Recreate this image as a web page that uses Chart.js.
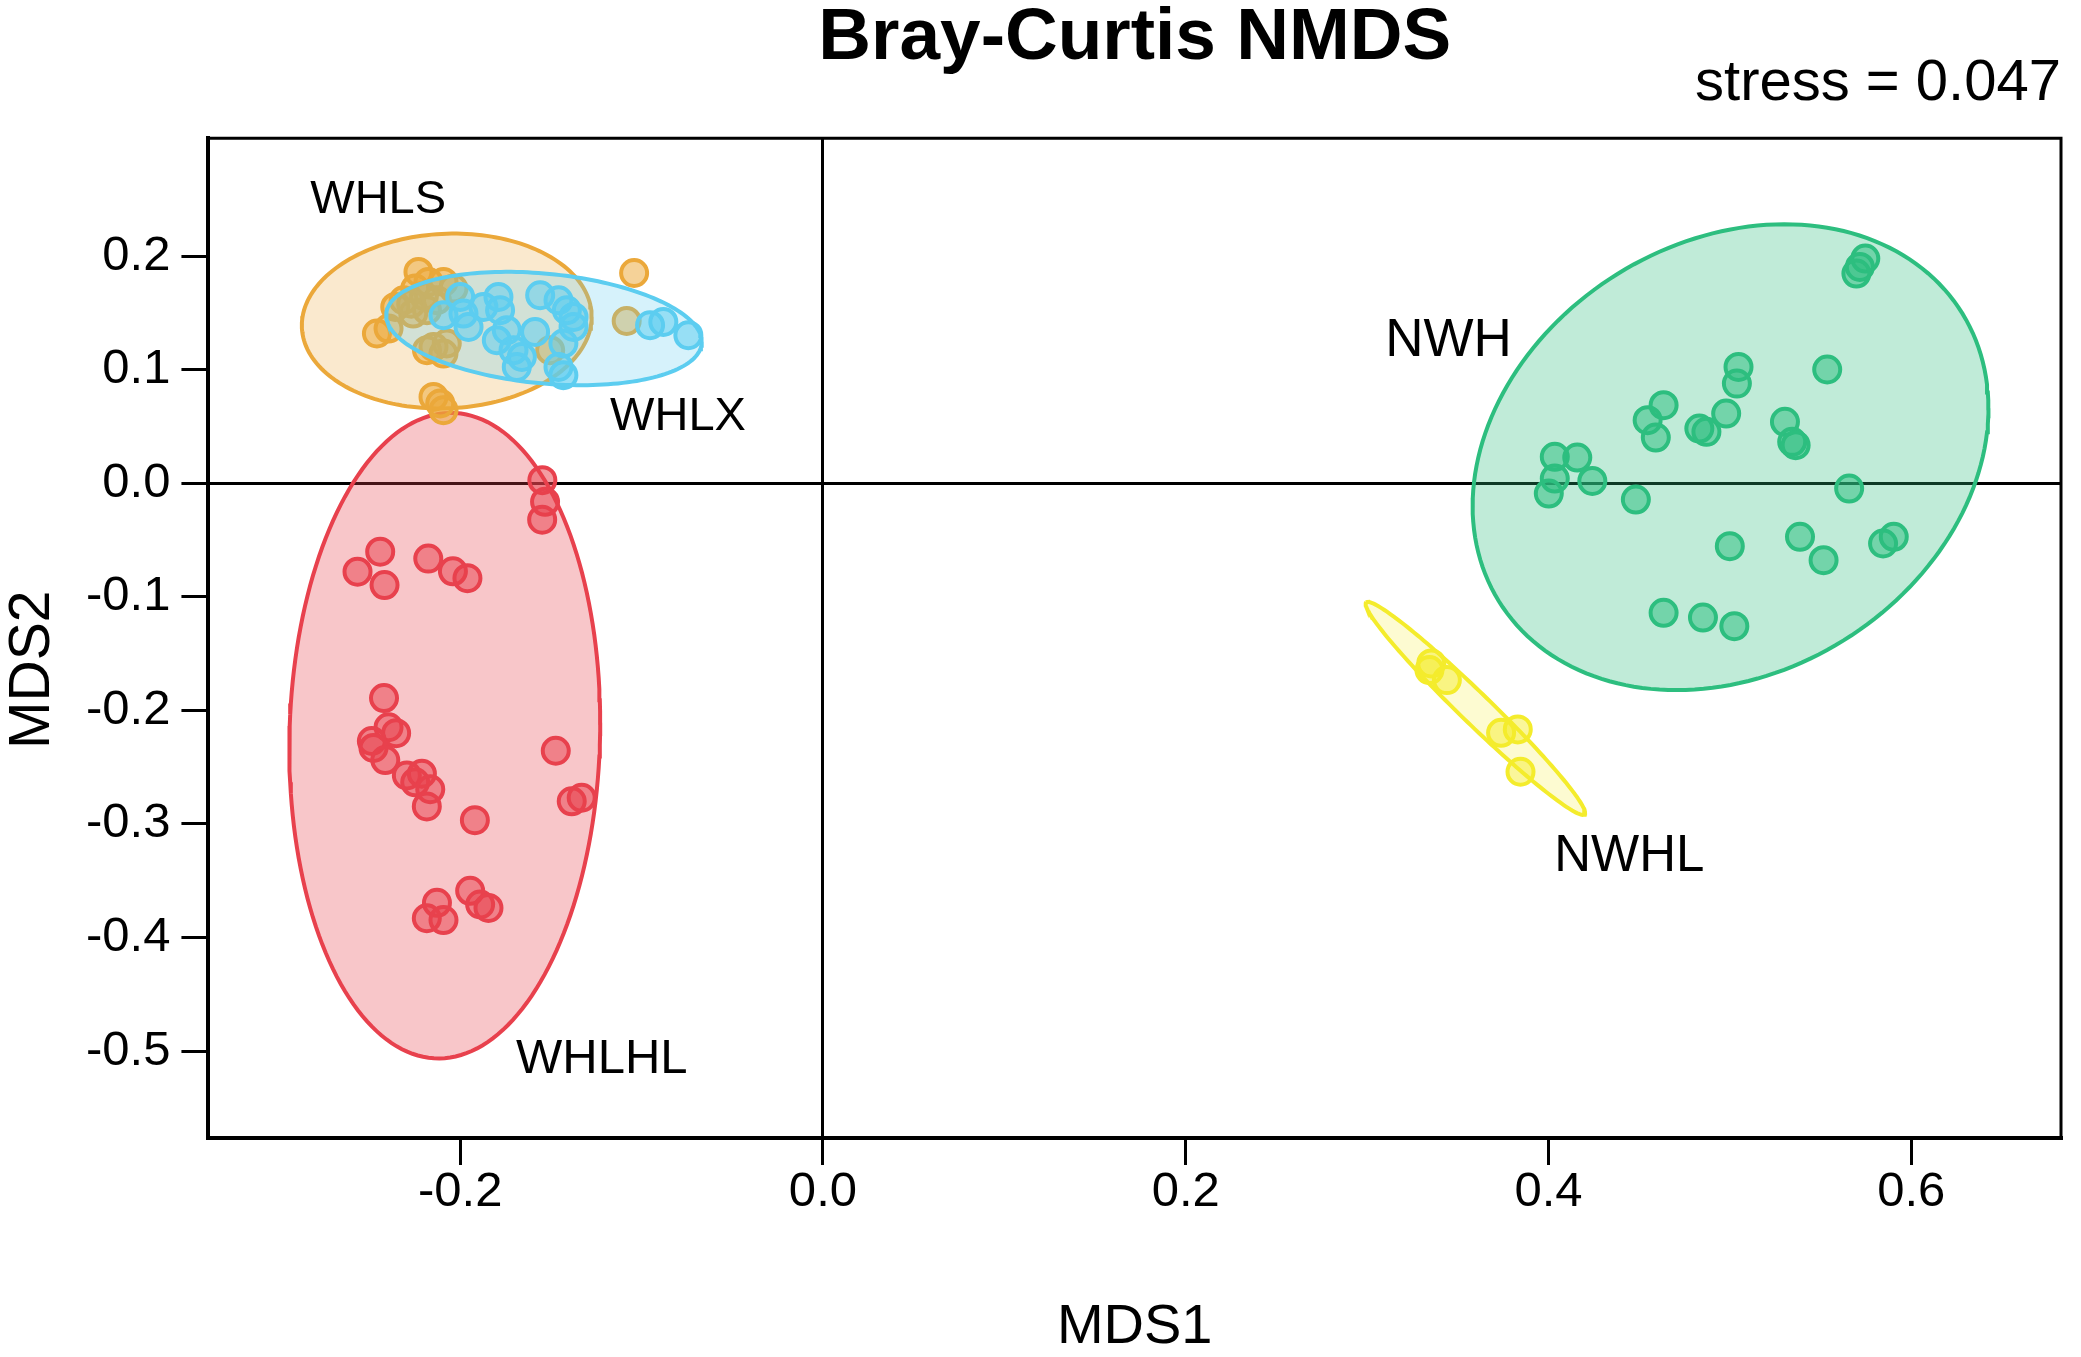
<!DOCTYPE html>
<html>
<head>
<meta charset="utf-8">
<title>Bray-Curtis NMDS</title>
<script src="https://cdn.jsdelivr.net/npm/chart.js@4.4.1/dist/chart.umd.min.js"></script>
<style>
  html, body { margin: 0; padding: 0; background: #fff; overflow: hidden; }
  canvas { display: block; }
</style>
</head>
<body>
<canvas id="nmds" width="2081" height="1357"></canvas>
<script>
const FONT = "'Liberation Sans', Arial, sans-serif";

// groups, in drawing order (first = bottom)
const groups = ['WHLHL', 'WHLS', 'WHLX', 'NWHL', 'NWH'];

// sample scores (MDS1, MDS2)
const whlhlX = [-0.1547, -0.1532, -0.1548, -0.2441, -0.2566, -0.2417, -0.2176, -0.2040, -0.1960, -0.2420,
  -0.2395, -0.2353, -0.2487, -0.2478, -0.2413, -0.2294, -0.2248, -0.2211, -0.2165, -0.2184,
  -0.1473, -0.1385, -0.1330, -0.1919, -0.1945, -0.1890, -0.1844, -0.2128, -0.2184, -0.2092];
const whlhlY = [0.0027, -0.0164, -0.0321, -0.0603, -0.0779, -0.0897, -0.0664, -0.0776, -0.0836, -0.1892,
  -0.2149, -0.2201, -0.2270, -0.2331, -0.2438, -0.2573, -0.2634, -0.2558, -0.2695, -0.2846,
  -0.2356, -0.2801, -0.2770, -0.2967, -0.3589, -0.3710, -0.3740, -0.3695, -0.3831, -0.3847];

const whlsX = [-0.2230, -0.1041, -0.1082, -0.2459, -0.2395, -0.2312, -0.2248, -0.2175, -0.2092, -0.2037,
  -0.2259, -0.2183, -0.2128, -0.2358, -0.2147, -0.2092, -0.2074, -0.2183, -0.1504, -0.2147,
  -0.2110, -0.2092, -0.2200, -0.2270];
const whlsY = [0.1860, 0.1851, 0.1429, 0.1318, 0.1362, 0.1611, 0.1714, 0.1772, 0.1772, 0.1714,
  0.1494, 0.1523, 0.1611, 0.1552, 0.1200, 0.1141, 0.1230, 0.1171, 0.1171, 0.0760,
  0.0702, 0.0643, 0.1650, 0.1580];

const whlxX = [-0.2092, -0.2000, -0.1982, -0.1954, -0.1872, -0.1789, -0.1780, -0.1743, -0.1798, -0.1706,
  -0.1660, -0.1688, -0.1587, -0.1559, -0.1458, -0.1412, -0.1375, -0.1375, -0.1431, -0.1458,
  -0.1431, -0.0953, -0.0880, -0.0742];
const whlxY = [0.1479, 0.1640, 0.1494, 0.1376, 0.1552, 0.1640, 0.1523, 0.1347, 0.1259, 0.1171,
  0.1112, 0.1024, 0.1332, 0.1655, 0.1611, 0.1523, 0.1464, 0.1376, 0.1230, 0.1024,
  0.0951, 0.1391, 0.1420, 0.1303];

const nwhlX = [0.3354, 0.3344, 0.3440, 0.3739, 0.3831, 0.3846];
const nwhlY = [-0.1587, -0.1646, -0.1734, -0.2198, -0.2168, -0.2541];

const nwhX = [0.5747, 0.5717, 0.5698, 0.5048, 0.5039, 0.5537, 0.4635, 0.4547, 0.4592, 0.4832,
  0.4871, 0.4980, 0.5304, 0.5344, 0.5363, 0.4035, 0.4159, 0.4035, 0.4242, 0.4002,
  0.4482, 0.5658, 0.5000, 0.5387, 0.5517, 0.5845, 0.5904, 0.4635, 0.4852, 0.5025];
const nwhY = [0.1978, 0.1904, 0.1846, 0.1024, 0.0877, 0.1001, 0.0687, 0.0555, 0.0402, 0.0481,
  0.0452, 0.0613, 0.0540, 0.0364, 0.0335, 0.0232, 0.0226, 0.0041, 0.0020, -0.0091,
  -0.0144, -0.0047, -0.0555, -0.0472, -0.0678, -0.0531, -0.0472, -0.1141, -0.1183, -0.1259];

const groupX = [whlhlX, whlsX, whlxX, nwhlX, nwhX];
const groupY = [whlhlY, whlsY, whlxY, nwhlY, nwhY];

// group ellipses: centre, half-extent along each axis, correlation (tilt)
const ellipseCx = [-0.2085, -0.2074, -0.1538, 0.3597, 0.5004];
const ellipseCy = [-0.2223, 0.1428, 0.1362, -0.1983, 0.0229];
const ellipseRx = [0.0857, 0.0799, 0.0870, 0.0605, 0.1422];
const ellipseRy = [0.2842, 0.0770, 0.0499, 0.0938, 0.2051];
const ellipseRho = [0.04, 0.05, -0.235, -0.98, 0.21];

// where the group names sit, in data units
const labelX = [-0.1219, -0.2452, -0.0799, 0.4446, 0.3449];
const labelY = [-0.5076, 0.2490, 0.0581, -0.3287, 0.1248];

const xTicks = [-0.2, 0.0, 0.2, 0.4, 0.6];
const yTicks = [0.2, 0.1, 0.0, -0.1, -0.2, -0.3, -0.4, -0.5];

const colors = [
  { line: '#E8414D', area: 'rgba(232,65,77,0.30)', dot: 'rgba(232,65,77,0.52)' },
  { line: '#EBA83A', area: 'rgba(235,168,58,0.25)', dot: 'rgba(235,168,58,0.52)' },
  { line: '#5CCDF0', area: 'rgba(92,205,240,0.25)', dot: 'rgba(92,205,240,0.52)' },
  { line: '#F4EC2C', area: 'rgba(244,236,44,0.22)', dot: 'rgba(244,236,44,0.48)' },
  { line: '#2DBE7F', area: 'rgba(45,190,127,0.30)', dot: 'rgba(45,190,127,0.52)' }
];
const labelSizes = [49, 47, 47, 51, 53];

function ellipsePoints(i) {
  const pts = [];
  const s = Math.sqrt(1 - ellipseRho[i] * ellipseRho[i]);
  for (let k = 0; k <= 180; k++) {
    const t = k / 180 * 2 * Math.PI;
    pts.push({
      x: ellipseCx[i] + ellipseRx[i] * Math.cos(t),
      y: ellipseCy[i] + ellipseRy[i] * (ellipseRho[i] * Math.cos(t) + s * Math.sin(t))
    });
  }
  return pts;
}

const datasets = [];
groups.forEach((g, i) => {
  datasets.push({
    type: 'line',
    label: g + ' ellipse',
    data: ellipsePoints(i),
    borderColor: colors[i].line,
    backgroundColor: colors[i].area,
    borderWidth: 4,
    fill: 'shape',
    pointRadius: 0,
    tension: 0,
    order: 100 - 2 * i
  });
  datasets.push({
    type: 'scatter',
    label: g,
    data: groupX[i].map((x, k) => ({ x: x, y: groupY[i][k] })),
    backgroundColor: colors[i].dot,
    borderColor: colors[i].line,
    pointRadius: 13,
    pointBorderWidth: 4,
    order: 99 - 2 * i
  });
});

// top and right edges of the box
const frame = {
  id: 'frame',
  afterDatasetsDraw(chart) {
    const { ctx, chartArea: a } = chart;
    ctx.save();
    ctx.strokeStyle = '#000';
    ctx.lineWidth = 3;
    ctx.beginPath();
    ctx.moveTo(a.left, a.top);
    ctx.lineTo(a.right, a.top);
    ctx.lineTo(a.right, a.bottom);
    ctx.stroke();
    ctx.restore();
  }
};

const groupTags = {
  id: 'groupTags',
  afterDatasetsDraw(chart) {
    const { ctx, scales } = chart;
    ctx.save();
    ctx.fillStyle = '#000';
    ctx.textAlign = 'center';
    ctx.textBaseline = 'middle';
    groups.forEach((g, i) => {
      ctx.font = labelSizes[i] + 'px ' + FONT;
      ctx.fillText(g, scales.x.getPixelForValue(labelX[i]), scales.y.getPixelForValue(labelY[i]));
    });
    ctx.restore();
  }
};

const zeroLine = ctx => (ctx.tick && Math.abs(ctx.tick.value) < 1e-9 ? '#000' : 'rgba(0,0,0,0)');

new Chart(document.getElementById('nmds'), { // eslint-disable-line
  type: 'scatter',
  data: { datasets: datasets },
  plugins: [frame, groupTags],
  options: {
    responsive: false,
    devicePixelRatio: 1,
    animation: false,
    layout: { padding: { left: 0, right: 20, top: 0, bottom: 0 } },
    plugins: {
      legend: { display: false },
      tooltip: { enabled: false },
      title: {
        display: true,
        text: 'Bray-Curtis NMDS',
        color: '#000',
        fullSize: false,
        font: { family: FONT, size: 73, weight: 'bold', lineHeight: 0.8 },
        padding: { top: 9.3, bottom: 0 }
      },
      subtitle: {
        display: true,
        text: 'stress = 0.047',
        align: 'end',
        color: '#000',
        fullSize: false,
        font: { family: FONT, size: 58, lineHeight: 0.55 },
        padding: { top: 0, bottom: 38.7 }
      }
    },
    scales: {
      x: {
        type: 'linear',
        min: -0.3388,
        max: 0.6826,
        afterBuildTicks: axis => { axis.ticks = xTicks.map(v => ({ value: v })); },
        ticks: {
          color: '#000',
          font: { family: FONT, size: 49, lineHeight: 1 },
          padding: 3,
          maxRotation: 0,
          autoSkip: false,
          callback: v => v.toFixed(1)
        },
        grid: { color: zeroLine, lineWidth: 3, tickColor: '#000', tickWidth: 3, tickLength: 27 },
        border: { display: true, color: '#000', width: 4 },
        title: {
          display: true,
          text: 'MDS1',
          color: '#000',
          font: { family: FONT, size: 56, lineHeight: 1 },
          padding: { top: 80, bottom: 1 }
        }
      },
      y: {
        type: 'linear',
        min: -0.5766,
        max: 0.3037,
        afterBuildTicks: axis => { axis.ticks = yTicks.map(v => ({ value: v })); },
        ticks: {
          color: '#000',
          font: { family: FONT, size: 49, lineHeight: 1 },
          padding: 11,
          autoSkip: false,
          callback: v => v.toFixed(1)
        },
        grid: { color: zeroLine, lineWidth: 3, tickColor: '#000', tickWidth: 3, tickLength: 27 },
        border: { display: true, color: '#000', width: 4 },
        title: {
          display: true,
          text: 'MDS2    ',
          color: '#000',
          font: { family: FONT, size: 57, lineHeight: 1 },
          padding: { top: 5, bottom: 13 }
        }
      }
    }
  }
});
</script>
</body>
</html>
